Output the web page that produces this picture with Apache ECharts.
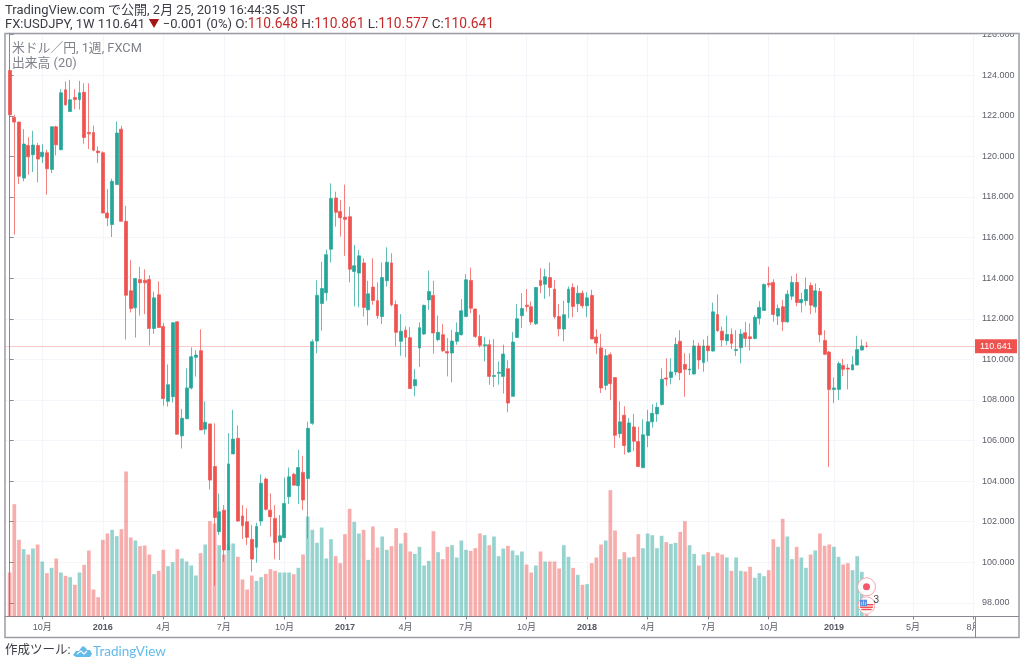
<!DOCTYPE html>
<html>
<head>
<meta charset="utf-8">
<style>html,body{margin:0;padding:0;background:#fff}#c{width:1024px;height:666px}</style>
<script src="https://cdn.jsdelivr.net/npm/echarts@6/dist/echarts.min.js"></script>
</head>
<body>
<div id="c"></div>
<script>
const opens = [
124.23,121.92,121.69,118.93,120.54,120.08,120.54,119.98,120.18,119.36,
121.46,120.33,123.28,122.21,122.90,122.80,123.16,121.18,121.18,120.26,
120.18,117.21,116.64,118.61,121.34,116.80,113.38,112.54,113.93,113.90,
113.93,111.52,113.18,111.62,107.93,108.16,111.85,106.23,107.07,108.59,
110.10,110.43,106.56,106.82,104.72,101.51,102.57,100.61,105.34,106.11,
102.28,102.00,101.13,100.74,102.03,104.10,102.57,102.16,101.02,101.21,
103.23,104.34,103.77,104.43,104.13,106.85,110.90,112.75,113.28,115.43,
117.95,117.28,117.00,117.03,114.33,114.25,114.75,112.44,113.56,112.89,
112.11,113.87,114.75,112.70,110.89,111.44,111.07,108.70,110.56,111.25,
112.93,113.15,110.97,111.21,110.39,110.31,110.89,111.21,112.11,113.89,
112.48,111.13,110.67,110.72,109.16,109.31,109.16,109.54,108.18,111.08,
112.15,112.67,112.59,111.75,113.89,113.70,114.03,113.46,112.11,111.49,
112.80,113.54,112.74,113.26,112.64,113.15,111.10,110.56,108.72,110.23,
109.10,106.34,107.25,105.44,106.67,105.95,104.66,106.25,106.92,107.31,
107.77,109.08,109.11,109.38,110.89,109.75,109.48,109.28,110.66,109.84,
110.66,110.41,112.21,111.39,110.92,111.23,110.44,110.57,111.31,111.11,
111.03,112.02,112.41,113.74,113.79,112.13,112.59,111.85,113.11,113.79,
112.79,112.89,113.64,112.59,113.34,110.93,110.36,108.52,108.52,109.70,
109.57,109.48,109.72,110.46,110.648];
const closes = [
122.05,121.69,119.02,120.61,119.98,120.56,119.87,120.21,119.39,121.46,
120.57,123.13,122.54,122.79,122.80,123.13,120.93,121.11,120.30,120.18,
117.21,116.97,118.77,121.15,116.80,113.16,112.51,113.98,113.77,113.77,
111.52,113.03,111.57,108.07,108.75,111.80,106.31,107.10,108.59,110.13,
110.21,106.52,106.90,104.05,102.21,102.49,100.61,104.85,106.07,102.03,
101.80,101.23,100.16,101.77,103.90,102.61,102.25,100.97,101.31,102.90,
104.21,103.80,104.67,103.07,106.60,110.87,113.16,113.49,115.16,117.93,
117.25,116.98,116.90,114.44,114.61,115.10,112.56,113.23,112.90,112.15,
114.03,114.79,112.69,111.33,111.39,111.08,108.56,109.00,111.56,112.66,
113.34,111.30,111.33,110.43,110.31,110.90,111.33,112.39,113.92,112.52,
111.13,110.69,110.72,109.16,109.21,109.36,110.26,107.85,110.85,112.00,
112.51,112.61,111.84,113.54,113.64,114.07,113.54,112.10,111.51,112.20,
113.46,112.61,113.26,112.64,113.03,111.00,110.80,108.59,110.18,108.80,
106.26,106.92,105.75,106.87,105.97,104.72,106.28,106.92,107.34,107.64,
109.02,109.03,109.38,110.74,109.34,109.51,109.52,110.66,109.97,110.66,
110.43,112.34,111.41,110.95,111.23,110.79,110.49,111.25,111.03,111.02,
112.07,112.56,113.69,113.67,112.21,112.51,111.85,113.21,113.79,112.80,
112.95,113.44,112.67,113.38,111.21,110.25,108.51,108.59,109.79,109.51,
109.52,109.74,110.48,110.66,110.641];
const lows = [
121.84,116.15,118.64,118.77,119.10,119.23,118.72,119.67,118.11,119.18,
120.05,120.30,122.49,122.21,122.33,122.30,120.62,120.36,120.25,119.67,
117.20,116.56,116.03,118.61,116.80,110.98,112.31,111.07,112.16,112.23,
110.69,111.26,111.57,107.72,107.67,107.87,106.31,105.61,107.07,108.52,
109.15,106.52,106.30,103.59,98.84,101.34,100.03,100.61,105.34,102.00,
101.15,100.85,99.54,99.98,101.80,102.54,101.26,100.15,100.11,101.21,
102.87,103.80,102.87,102.57,101.18,106.77,110.30,111.41,112.89,114.77,
116.54,116.05,115.10,113.79,112.61,112.56,112.11,111.67,112.69,112.00,
111.74,113.59,112.61,110.64,110.18,110.11,108.56,108.18,109.62,111.20,
112.44,110.28,110.89,110.36,109.16,108.87,110.72,111.18,112.11,112.28,
111.05,110.59,109.90,108.75,108.64,108.75,108.31,107.39,108.18,111.05,
111.54,112.36,111.70,111.70,113.26,112.98,113.10,112.00,111.13,110.89,
112.03,112.08,112.33,112.52,112.08,111.00,110.26,108.34,108.48,108.00,
105.64,106.13,105.31,105.39,105.48,104.69,104.66,105.67,106.64,106.92,
107.74,108.69,108.77,109.21,108.98,108.16,109.23,109.25,109.51,109.39,
109.89,110.38,111.36,110.62,110.70,110.51,110.16,109.80,110.62,110.43,
110.98,111.72,112.41,113.54,111.85,111.69,111.39,111.80,112.92,112.62,
112.31,112.64,112.23,112.30,110.84,110.21,104.69,107.84,108.00,109.18,
108.52,109.48,109.72,110.43,110.577];
const highs = [
124.56,122.05,121.70,121.34,120.95,121.26,120.66,120.60,120.33,121.48,
121.51,123.31,123.69,123.77,123.31,123.72,123.60,123.60,121.52,120.49,
120.25,118.39,118.90,121.72,121.51,117.57,114.89,114.00,114.56,114.44,
114.15,113.33,113.84,111.80,109.75,111.84,111.88,107.56,109.56,110.59,
110.46,111.48,107.92,106.82,106.85,103.39,102.82,106.36,107.51,106.75,
102.82,102.66,101.84,101.95,104.33,104.18,103.39,102.82,102.33,104.18,
104.67,104.41,105.54,105.25,106.93,110.98,113.90,114.80,115.41,118.67,
118.26,117.85,118.61,117.52,115.64,115.39,114.98,113.87,114.98,113.80,
114.77,115.52,115.23,112.90,112.23,111.62,111.59,109.52,111.82,112.70,
114.38,113.87,112.16,111.75,111.05,111.46,111.82,112.97,114.20,114.52,
112.50,112.20,111.10,110.97,111.00,109.90,110.72,109.95,111.34,112.72,
113.26,113.46,112.85,113.56,114.49,114.46,114.77,113.92,112.72,112.89,
113.59,113.75,113.64,113.39,113.31,113.43,111.49,111.26,110.51,110.34,
109.10,107.93,107.69,107.11,107.31,106.69,107.05,107.51,107.79,107.87,
109.56,110.05,110.05,111.08,111.44,110.30,110.30,110.95,110.82,110.98,
111.16,112.80,113.20,111.61,112.15,111.52,111.44,111.49,111.85,111.77,
112.18,112.87,113.74,114.56,113.95,112.70,112.92,113.41,114.10,114.23,
113.28,114.03,113.79,113.74,113.52,111.44,110.41,109.11,109.89,110.02,
109.77,110.16,111.16,110.98,110.861];
const volumes = [
132,337,230,202,186,204,216,165,130,146,
174,132,122,118,95,132,155,198,81,58,
230,249,260,241,262,435,237,228,211,213,
186,127,137,200,151,163,202,174,165,153,
123,190,216,286,279,214,186,216,219,179,
111,81,123,107,118,128,142,137,132,132,
132,127,146,186,300,260,221,267,174,232,
181,160,247,323,284,249,260,170,270,207,
240,200,211,265,219,251,195,188,209,153,
167,256,193,172,209,214,177,228,200,197,
205,249,244,214,240,181,204,212,198,184,
195,156,132,153,195,165,165,165,144,214,
179,146,125,95,97,160,177,216,228,379,
258,172,193,177,179,247,205,249,244,205,
242,223,218,221,254,286,214,188,153,186,
193,181,191,186,177,137,177,137,135,149,
116,130,121,139,232,209,293,240,172,209,
177,146,186,198,249,212,216,209,179,156,
160,139,181,134,8];
const tickWeeks  = [7,20,33,46,59,72,85,98,111,124,137,150,163,177,194,207];
const tickLabels = ['10月','2016','4月','7月','10月','2017','4月','7月','10月','2018','4月','7月','10月','2019','5月','8月'];
const priceTicks = [98,100,102,104,106,108,110,112,114,116,118,120,122,124,126];
const lastPrice = 110.641;
const eventMarks = [[184, 89]];
const calendarMarks = [[184, 34]];

const UP = '#26a69a', DOWN = '#ef5350';
const FONT = "Roboto, 'Noto Sans CJK JP', sans-serif";
const AXF = "'Liberation Sans', 'Noto Sans CJK JP', sans-serif";
const candles = opens.map((o, i) => [i, o, closes[i], lows[i], highs[i]]);
const volBars = volumes.map((v, i) => ({
  value: [i, v],
  itemStyle: { color: closes[i] >= opens[i] ? 'rgba(38,166,154,0.48)' : 'rgba(239,83,80,0.48)' }
}));
const flagSvg = "<svg xmlns='http://www.w3.org/2000/svg' width='36' height='36' viewBox='0 0 18 18'>" +
  "<circle cx='9' cy='9' r='8.4' fill='white' stroke='#f8a3ad' stroke-width='1'/>" +
  "<path d='M2 10.5h14a7 7 0 0 1-14 0z' fill='#fff'/>" +
  "<path d='M8 8.5h8M2.6 11h12.8M3.8 13.4h10.4' stroke='#ef5350' stroke-width='1.5'/>" +
  "<rect x='2.5' y='3.5' width='7' height='6.5' fill='#5b8fe0'/>" +
  "<path d='M4 9V6M6 9V4.5M8 9V6' stroke='#cfe0fa' stroke-width='0.8'/>" +
  "</svg>";
const flagSymbol = 'image://data:image/svg+xml;charset=utf-8,' + encodeURIComponent(flagSvg);

const chart = echarts.init(document.getElementById('c'), null, { renderer: 'canvas' });
chart.setOption({
  animation: false,
  backgroundColor: '#fff',
  title: [
    { left: 5, top: 4, itemGap: 0, padding: 0,
      text: 'TradingView.com で公開, 2月 25, 2019 16:44:35 JST',
      textStyle: { fontFamily: FONT, fontSize: 13, fontWeight: 'normal', color: '#3a3d45' } },
    { left: 5, top: 18, padding: 0,
      text: '{a|FX:USDJPY, 1W 110.641} {t|▼} {a|−0.001 (0%)} O:{r|110.648} H:{r|110.861} L:{r|110.577} C:{r|110.641}',
      textStyle: { fontFamily: FONT, fontSize: 13.5, fontWeight: 'normal', color: '#3a3d45',
        rich: { a: { fontFamily: FONT, fontSize: 13, color: '#3a3d45' },
                r: { fontFamily: FONT, fontSize: 13.8, color: '#c62828' },
                t: { fontFamily: FONT, fontSize: 11, color: '#a51616' } } } },
    { left: 12, top: 42, padding: 0,
      text: '米ドル／円, 1週, FXCM',
      textStyle: { fontFamily: FONT, fontSize: 12.8, fontWeight: 'normal', color: '#80838b' } },
    { left: 12, top: 57, padding: 0,
      text: '出来高 (20)',
      textStyle: { fontFamily: FONT, fontSize: 12.8, fontWeight: 'normal', color: '#80838b' } },
    { left: 5, top: 645, padding: 0,
      text: '作成ツール:',
      textStyle: { fontFamily: FONT, fontSize: 12.5, fontWeight: 'normal', color: '#3a3d45' } },
    { left: 93, top: 645, padding: 0,
      text: 'TradingView',
      textStyle: { fontFamily: "Lato, Roboto, sans-serif", fontSize: 13.5, fontWeight: 'normal', color: '#62bbea' } }
  ],
  grid: { left: 5, right: 49, top: 33, bottom: 49.5, containLabel: false },
  xAxis: {
    type: 'value', min: -1, max: 207.3,
    axisLine: { onZero: false, lineStyle: { color: '#868993', width: 1 } },
    axisTick: { customValues: tickWeeks, length: 3, lineStyle: { color: '#868993' } },
    splitLine: { show: true, lineStyle: { color: '#f3f5fb', width: 1 } },
    axisLabel: {
      customValues: tickWeeks, margin: 7, fontFamily: AXF, fontSize: 9, color: '#5c5f6a',
      hideOverlap: false, showMinLabel: true, showMaxLabel: true,
      formatter: (v) => {
        const t = tickLabels[tickWeeks.indexOf(v)];
        return /^\d{4}$/.test(t) ? '{y|' + t + '}' : t;
      },
      rich: { y: { fontFamily: AXF, fontSize: 9, fontWeight: 'bold', color: '#555862' } }
    }
  },
  yAxis: [
    { type: 'value', position: 'right', min: 97.33, max: 126.08, scale: true,
      axisLine: { show: true, lineStyle: { color: '#868993', width: 1 } },
      axisTick: { show: true, customValues: priceTicks, length: 4, lineStyle: { color: '#868993' } },
      splitLine: { show: true, lineStyle: { color: '#f3f5fb', width: 1 } },
      axisLabel: { customValues: priceTicks, margin: 7, fontFamily: AXF, fontSize: 9, color: '#5c5f6a',
        showMinLabel: true, showMaxLabel: true,
        formatter: (v) => v.toFixed(3) } },
    { type: 'value', show: false, min: 0, max: 1750.5 }
  ],
  series: [
    { name: '出来高', type: 'bar', yAxisIndex: 1, data: volBars, barWidth: 3.7, z: 2, silent: true },
    { name: 'USDJPY', type: 'candlestick', yAxisIndex: 0, data: candles, z: 3,
      encode: { x: 0, y: [1, 2, 3, 4] }, barWidth: 3.4,
      itemStyle: { color: UP, color0: DOWN, borderColor: 'rgba(38,166,154,0.72)', borderColor0: 'rgba(239,83,80,0.72)', borderWidth: 1 },
      markLine: { silent: true, symbol: 'none', precision: 3, animation: false,
        lineStyle: { color: 'rgba(239,83,80,0.3)', type: 'solid', width: 1 },
        label: { show: true, position: 'end', distance: 0, formatter: () => lastPrice.toFixed(3),
          backgroundColor: DOWN, color: '#fff', fontFamily: AXF, fontSize: 9, padding: [3, 5, 2, 5], width: 32, align: 'left' },
        data: [{ yAxis: lastPrice }] } },
    { name: 'event ring', type: 'scatter', yAxisIndex: 1, data: eventMarks, symbolSize: 18, z: 5, silent: true,
      itemStyle: { color: 'rgba(255,255,255,0.92)', borderColor: '#f8a3ad', borderWidth: 1, opacity: 1 } },
    { name: 'event dot', type: 'scatter', yAxisIndex: 1, data: eventMarks, symbolSize: 7, z: 6, silent: true,
      itemStyle: { color: '#f4566a', opacity: 1 } },
    { name: 'calendar', type: 'scatter', yAxisIndex: 1, data: calendarMarks, symbol: flagSymbol, symbolSize: 18, z: 5, silent: true,
      itemStyle: { opacity: 1 },
      label: { show: true, formatter: '3', position: 'right', distance: -2, offset: [0, -5], fontFamily: AXF, fontSize: 10, color: '#444' } }
  ],
  graphic: [
    { type: 'rect', z: 40, silent: true, shape: { x: 976, y: 618, width: 42, height: 19 }, style: { fill: '#fff' } },
    { type: 'rect', z: 40, silent: true, shape: { x: 976, y: 22, width: 42, height: 11 }, style: { fill: '#fff' } },
    { type: 'rect', z: 41, silent: true, shape: { x: 5, y: 33.5, width: 1014, height: 604 }, style: { fill: 'none', stroke: '#9a9da6', lineWidth: 1.5 } },
    { type: 'line', z: 41, silent: true, shape: { x1: 975.5, y1: 616, x2: 975.5, y2: 637.5 }, style: { stroke: '#868993', lineWidth: 1 } },
    { type: 'line', z: 41, silent: true, shape: { x1: 975, y1: 616.5, x2: 1019, y2: 616.5 }, style: { stroke: '#868993', lineWidth: 1 } },
    { type: 'polygon', z: 41, silent: true, shape: { points: [[73,655],[76,651],[79,651],[81,648],[83,646],[86,648],[87,650],[90,650],[92,654],[90,657],[76,657]], smooth: 0 }, style: { fill: '#62bbea' } },
    { type: 'polyline', z: 42, silent: true, shape: { points: [[77,654],[81,651],[84,654],[87,651]] }, style: { stroke: '#fff', lineWidth: 1.2, fill: 'none' } }
  ]
});
</script>
</body>
</html>
